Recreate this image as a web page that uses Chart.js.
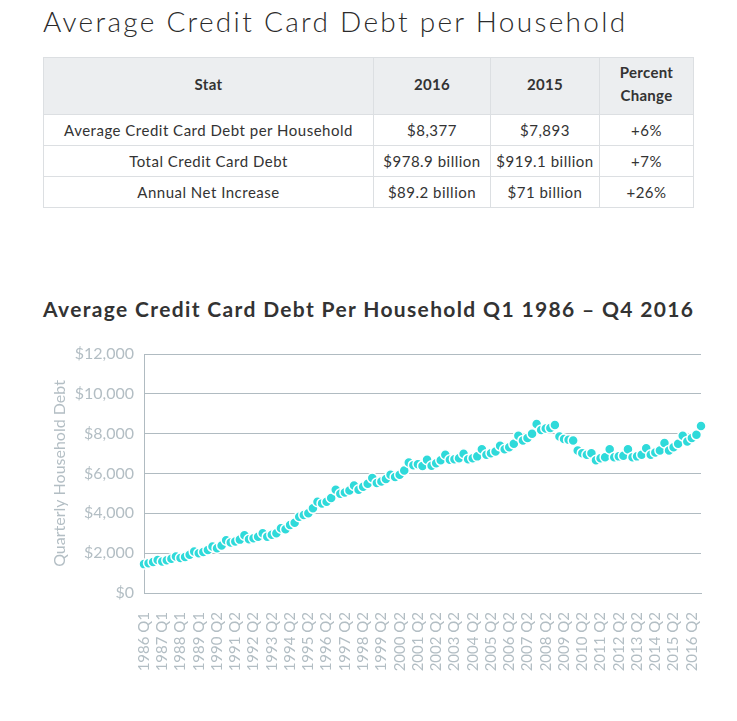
<!DOCTYPE html>
<html>
<head>
<meta charset="utf-8">
<script src="https://cdn.jsdelivr.net/npm/chart.js@4.4.1/dist/chart.umd.min.js"></script>
<style>
  html, body { margin: 0; padding: 0; background: #fff; }
  body { width: 737px; height: 721px; position: relative; overflow: hidden; font-family: "Lato", sans-serif; color: #333; }
  #title { position: absolute; left: 43px; top: 4px; font-size: 28px; font-weight: 300; letter-spacing: 2.3px; color: #2b2b2b; white-space: nowrap; }
  table { position: absolute; left: 43px; top: 57px; width: 651px; border-collapse: collapse; font-size: 15px; letter-spacing: 0.5px; color: #333; }
  td, th { border: 1px solid #dcdfe2; text-align: center; padding: 0; }
  th { background: #eceef0; font-weight: 700; height: 56px; line-height: 23px; letter-spacing: 0.3px; }
  th .in { position: relative; top: -2px; }
  td { height: 30px; }
  #ctitle { position: absolute; left: 43px; top: 296px; font-size: 21px; font-weight: 700; letter-spacing: 1.35px; color: #333; white-space: nowrap; }
  #wrap { position: absolute; left: 40px; top: 340px; width: 670px; height: 381px; }
</style>
</head>
<body>
<div id="title">Average Credit Card Debt per Household</div>
<table>
  <tr><th style="width:329px"><span class="in">Stat</span></th><th style="width:116px"><span class="in">2016</span></th><th style="width:108px"><span class="in">2015</span></th><th><div class="in">Percent<br>Change</div></th></tr>
  <tr><td>Average Credit Card Debt per Household</td><td>$8,377</td><td>$7,893</td><td>+6%</td></tr>
  <tr><td>Total Credit Card Debt</td><td>$978.9 billion</td><td>$919.1 billion</td><td>+7%</td></tr>
  <tr><td>Annual Net Increase</td><td>$89.2 billion</td><td>$71 billion</td><td>+26%</td></tr>
</table>
<div id="ctitle">Average Credit Card Debt Per Household Q1 1986 – Q4 2016</div>
<div id="wrap"><canvas id="c"></canvas></div>
<script>
// Quarter labels (1990 Q1 absent in source series)
const quarters = [
  "1986 Q1","1986 Q2","1986 Q3","1986 Q4",
  "1987 Q1","1987 Q2","1987 Q3","1987 Q4",
  "1988 Q1","1988 Q2","1988 Q3","1988 Q4",
  "1989 Q1","1989 Q2","1989 Q3","1989 Q4",
  "1990 Q2","1990 Q3","1990 Q4",
  "1991 Q1","1991 Q2","1991 Q3","1991 Q4",
  "1992 Q1","1992 Q2","1992 Q3","1992 Q4",
  "1993 Q1","1993 Q2","1993 Q3","1993 Q4",
  "1994 Q1","1994 Q2","1994 Q3","1994 Q4",
  "1995 Q1","1995 Q2","1995 Q3","1995 Q4",
  "1996 Q1","1996 Q2","1996 Q3","1996 Q4",
  "1997 Q1","1997 Q2","1997 Q3","1997 Q4",
  "1998 Q1","1998 Q2","1998 Q3","1998 Q4",
  "1999 Q1","1999 Q2","1999 Q3","1999 Q4",
  "2000 Q1","2000 Q2","2000 Q3","2000 Q4",
  "2001 Q1","2001 Q2","2001 Q3","2001 Q4",
  "2002 Q1","2002 Q2","2002 Q3","2002 Q4",
  "2003 Q1","2003 Q2","2003 Q3","2003 Q4",
  "2004 Q1","2004 Q2","2004 Q3","2004 Q4",
  "2005 Q1","2005 Q2","2005 Q3","2005 Q4",
  "2006 Q1","2006 Q2","2006 Q3","2006 Q4",
  "2007 Q1","2007 Q2","2007 Q3","2007 Q4",
  "2008 Q1","2008 Q2","2008 Q3","2008 Q4",
  "2009 Q1","2009 Q2","2009 Q3","2009 Q4",
  "2010 Q1","2010 Q2","2010 Q3","2010 Q4",
  "2011 Q1","2011 Q2","2011 Q3","2011 Q4",
  "2012 Q1","2012 Q2","2012 Q3","2012 Q4",
  "2013 Q1","2013 Q2","2013 Q3","2013 Q4",
  "2014 Q1","2014 Q2","2014 Q3","2014 Q4",
  "2015 Q1","2015 Q2","2015 Q3","2015 Q4",
  "2016 Q1","2016 Q2","2016 Q3","2016 Q4"
];

// Average household debt per quarter (USD)
const debt = [
  1450, 1490, 1560, 1660,
  1580, 1640, 1720, 1830,
  1760, 1810, 1920, 2080,
  1990, 2060, 2160, 2330,
  2250, 2380, 2650,
  2530, 2580, 2680, 2900,
  2700, 2750, 2830, 3000,
  2830, 2920, 3000, 3250,
  3200, 3420, 3530, 3830,
  3920, 4000, 4250, 4580,
  4500, 4580, 4770, 5180,
  4980, 5050, 5150, 5400,
  5180, 5330, 5480, 5770,
  5520, 5600, 5720, 5940,
  5820, 5940, 6150, 6550,
  6420, 6470, 6380, 6690,
  6390, 6520, 6660, 6940,
  6690, 6720, 6770, 6990,
  6720, 6770, 6860, 7220,
  6940, 7020, 7110, 7390,
  7220, 7320, 7490, 7890,
  7660, 7780, 7990, 8490,
  8190, 8260, 8280, 8430,
  7860, 7730, 7690, 7660,
  7160, 7020, 6940, 7020,
  6660, 6770, 6820, 7220,
  6820, 6860, 6890, 7220,
  6820, 6860, 6940, 7270,
  6940, 7060, 7160, 7530,
  7160, 7320, 7490, 7890,
  7610, 7780, 7940, 8390
];

const yTicks = { min: 0, max: 12000, step: 2000 };
const labelEvery = 4;

const axisColor = '#b0bbc1';
const tickColor = '#b3bec4';

new Chart(document.getElementById('c'), {
  type: 'line',
  data: {
    labels: quarters,
    datasets: [{
      data: debt,
      showLine: false,
      pointRadius: 5,
      pointHoverRadius: 5,
      pointBackgroundColor: '#2fdada',
      pointBorderColor: '#ffffff',
      pointBorderWidth: 1.5,
      clip: false
    }]
  },
  options: {
    responsive: true,
    maintainAspectRatio: false,
    animation: false,
    layout: { padding: { top: 14, right: 9, left: 0, bottom: 0 } },
    plugins: { legend: { display: false }, tooltip: { enabled: false } },
    scales: {
      x: {
        grid: { display: false, drawTicks: false },
        border: { display: true, color: axisColor, width: 1 },
        ticks: {
          autoSkip: false,
          minRotation: 90, maxRotation: 90,
          padding: 19,
          color: tickColor,
          font: { family: 'Lato', size: 15 },
          callback: function(v, i) { return i % labelEvery === 0 ? this.getLabelForValue(v) : ''; }
        },
        afterFit: s => { s.height = 128; s.paddingRight = 0; s.paddingLeft = 0; }
      },
      y: {
        min: yTicks.min, max: yTicks.max,
        grid: { color: axisColor, drawTicks: false },
        border: { display: true, color: axisColor },
        ticks: {
          stepSize: yTicks.step,
          padding: 10,
          color: tickColor,
          font: { family: 'Lato', size: 16 },
          callback: v => '$' + v.toLocaleString('en-US')
        },
        title: {
          display: true,
          text: 'Quarterly Household Debt',
          color: tickColor,
          font: { family: 'Lato', size: 16 },
          padding: { top: 10, bottom: 0 }
        },
        afterFit: s => { s.width = 104; s.paddingTop = 0; s.paddingBottom = 0; }
      }
    }
  }
});
</script>
</body>
</html>
